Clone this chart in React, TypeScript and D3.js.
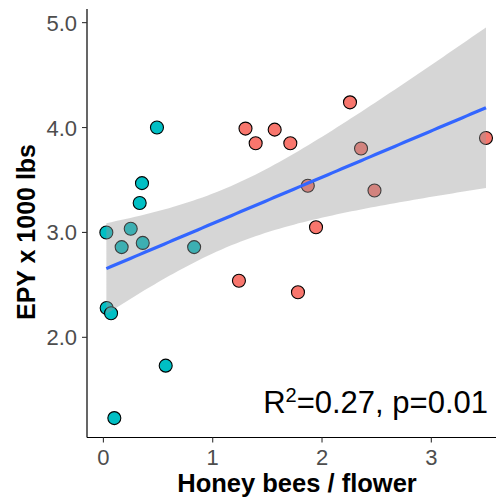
import React from 'react';
import * as d3 from 'd3';

// low honey bee visitation group (teal) and high group (salmon)
const lowX = [0.49, 0.353, 0.332, 0.027, 0.25, 0.167, 0.36, 0.83, 0.03, 0.07, 0.57, 0.1];
const lowY = [4.0, 3.47, 3.28, 3.0, 3.035, 2.86, 2.9, 2.86, 2.28, 2.23, 1.73, 1.23];
const highX = [1.3, 1.393, 1.567, 1.71, 2.256, 2.357, 3.5, 1.87, 2.48, 1.945, 1.24, 1.78];
const highY = [3.99, 3.85, 3.98, 3.85, 4.24, 3.8, 3.9, 3.445, 3.4, 3.05, 2.54, 2.43];

const xTicks = [0, 1, 2, 3];
const yTicks = [2, 3, 4, 5];
const T_CRIT = 2.074; // qt(0.975, 22)

const W = 496;
const H = 499;
const panel = { left: 87, right: 505, top: 9, bottom: 437.5 };
const font = '"Liberation Sans", Arial, Helvetica, sans-serif';

export default function App() {
  const x = d3.scaleLinear().domain([-0.15, 3.674]).range([panel.left, panel.right]);
  const y = d3.scaleLinear().domain([1.045, 5.13]).range([panel.bottom, panel.top]);

  const pts = [
    ...lowX.map((v, i) => ({ x: v, y: lowY[i], g: 'low' })),
    ...highX.map((v, i) => ({ x: v, y: highY[i], g: 'high' })),
  ];

  // ordinary least squares + 95% CI for the mean
  const n = pts.length;
  const mx = d3.mean(pts, (d) => d.x)!;
  const my = d3.mean(pts, (d) => d.y)!;
  const sxx = d3.sum(pts, (d) => (d.x - mx) ** 2);
  const sxy = d3.sum(pts, (d) => (d.x - mx) * (d.y - my));
  const b = sxy / sxx;
  const a = my - b * mx;
  const sse = d3.sum(pts, (d) => (d.y - a - b * d.x) ** 2);
  const s = Math.sqrt(sse / (n - 2));

  const [x0, x1] = d3.extent(pts, (d) => d.x) as [number, number];
  const grid = d3.range(80).map((i) => x0 + ((x1 - x0) * i) / 79);
  const fit = grid.map((gx) => {
    const yh = a + b * gx;
    const se = s * Math.sqrt(1 / n + (gx - mx) ** 2 / sxx);
    return { x: gx, y: yh, lo: yh - T_CRIT * se, hi: yh + T_CRIT * se };
  });

  const band = d3
    .area<typeof fit[0]>()
    .x((d) => x(d.x))
    .y0((d) => y(d.lo))
    .y1((d) => y(d.hi));
  const line = d3
    .line<typeof fit[0]>()
    .x((d) => x(d.x))
    .y((d) => y(d.y));

  return (
    <svg width={W} height={H} style={{ position: 'absolute', left: 0, top: 0, background: '#fff' }}>
      <rect width={W} height={H} fill="#fff" />
      {pts.map((d, i) => (
        <circle
          key={i}
          cx={x(d.x)}
          cy={y(d.y)}
          r={6.5}
          fill={d.g === 'low' ? '#00BFC4' : '#F8766D'}
          stroke="#000"
          strokeWidth={1.1}
        />
      ))}
      <path d={band(fit)!} fill="#999999" fillOpacity={0.4} />
      <path d={line(fit)!} fill="none" stroke="#3366FF" strokeWidth={3.2} />

      {/* axes */}
      <line x1={panel.left} x2={panel.left} y1={panel.top} y2={panel.bottom} stroke="#000" strokeWidth={1.2} />
      <line x1={panel.left} x2={panel.right} y1={panel.bottom} y2={panel.bottom} stroke="#000" strokeWidth={1.2} />
      {yTicks.map((t) => (
        <g key={t}>
          <line x1={panel.left - 5} x2={panel.left} y1={y(t)} y2={y(t)} stroke="#333" strokeWidth={1.1} />
          <text x={panel.left - 10} y={y(t) + 8} textAnchor="end" fontFamily={font} fontSize={22} fill="#4D4D4D">
            {t.toFixed(1)}
          </text>
        </g>
      ))}
      {xTicks.map((t) => (
        <g key={t}>
          <line x1={x(t)} x2={x(t)} y1={panel.bottom} y2={panel.bottom + 5} stroke="#333" strokeWidth={1.1} />
          <text x={x(t)} y={464.5} textAnchor="middle" fontFamily={font} fontSize={22} fill="#4D4D4D">
            {t}
          </text>
        </g>
      ))}

      <text x={297} y={492} textAnchor="middle" fontFamily={font} fontSize={25.5} fontWeight="bold" fill="#000">
        Honey bees / flower
      </text>
      <text
        transform={`translate(35,232) rotate(-90)`}
        textAnchor="middle"
        fontFamily={font}
        fontSize={25}
        fontWeight="bold"
        fill="#000"
      >
        EPY x 1000 lbs
      </text>

      <text x={488} y={413} textAnchor="end" fontFamily={font} fontSize={31} fill="#000">
        R<tspan fontSize={20} dy={-11}>2</tspan>
        <tspan dy={11}>=0.27, p=0.01</tspan>
      </text>
    </svg>
  );
}
